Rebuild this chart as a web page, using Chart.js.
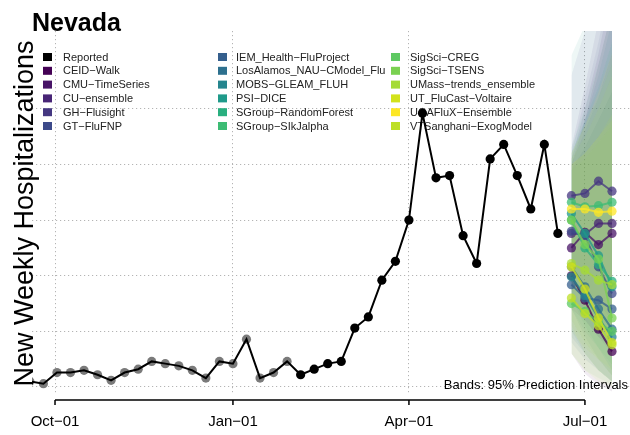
<!DOCTYPE html>
<html>
<head>
<meta charset="utf-8">
<script src="https://cdn.jsdelivr.net/npm/chart.js@4.4.1/dist/chart.umd.min.js"></script>
<style>
  html, body { margin: 0; padding: 0; background: #fff; }
  canvas { display: block; }
</style>
</head>
<body>
<canvas id="chart" width="630" height="435"></canvas>
<script>
// reported weekly hospitalizations
var reportedDates = ['2023-09-18','2023-09-25','2023-10-02','2023-10-09','2023-10-16','2023-10-23','2023-10-30',
  '2023-11-06','2023-11-13','2023-11-20','2023-11-27','2023-12-04','2023-12-11','2023-12-18','2023-12-25',
  '2024-01-01','2024-01-08','2024-01-15','2024-01-22','2024-01-29','2024-02-05','2024-02-12','2024-02-19',
  '2024-02-26','2024-03-04','2024-03-11','2024-03-18','2024-03-25','2024-04-01','2024-04-08','2024-04-15',
  '2024-04-22','2024-04-29','2024-05-06','2024-05-13','2024-05-20','2024-05-27','2024-06-03','2024-06-10','2024-06-17'];
var reportedValues = [5, 3, 13, 13, 15, 11, 6, 13, 16, 23, 21, 19, 15, 8, 23, 21, 43, 8, 13, 23,
  11, 16, 21, 23, 53, 63, 96, 113, 150, 246, 188, 190, 136, 111, 205, 218, 190, 160, 218, 138];
var olderCount = 20; // first weeks shown in grey

// forecasts, 1-4 weeks ahead
var forecastDates = ['2024-06-24','2024-07-01','2024-07-08','2024-07-15'];
var models = ['CEID\u2212Walk','CMU\u2212TimeSeries','CU\u2212ensemble','GH\u2212Flusight','GT\u2212FluFNP',
  'IEM_Health\u2212FluProject','LosAlamos_NAU\u2212CModel_Flu','MOBS\u2212GLEAM_FLUH','PSI\u2212DICE',
  'SGroup\u2212RandomForest','SGroup\u2212SIkJalpha','SigSci\u2212CREG','SigSci\u2212TSENS',
  'UMass\u2212trends_ensemble','UT_FluCast\u2212Voltaire','UGAFluX\u2212Ensemble','VTSanghani\u2212ExogModel'];
var modelColors = ['#440154','#481467','#482576','#453781','#3d4a8a','#355f8d','#2d708e','#25858e','#1f9a8a',
  '#29af7f','#3dbc74','#5ec962','#7ad151','#a5db36','#d2e21b','#fde725','#bddf26'];
var medians = [
  [100, 78, 52, 32],
  [125, 139, 128, 138],
  [138, 137, 147, 147],
  [172, 174, 185, 176],
  [140, 136, 108, 84],
  [92, 80, 78, 70],
  [108, 90, 70, 52],
  [99, 82, 62, 45],
  [156, 138, 118, 90],
  [150, 125, 110, 95],
  [166, 162, 163, 166],
  [75, 68, 58, 50],
  [150, 128, 115, 62],
  [111, 105, 96, 92],
  [108, 88, 62, 40],
  [160, 160, 157, 158],
  [80, 66, 55, 38]
];
var lower95 = [
  [30, 12, 2, -4], [70, 60, 45, 35], [80, 60, 45, 30], [110, 90, 75, 60], [70, 45, 25, 10],
  [40, 25, 15, 5], [50, 30, 15, 5], [45, 30, 15, 5], [80, 55, 35, 15], [70, 50, 35, 20],
  [95, 75, 60, 50], [30, 15, 8, 2], [60, 40, 25, 10], [50, 35, 25, 15], [55, 30, 15, 5],
  [90, 70, 55, 45], [30, 15, 5, 0]
];
var upper95 = [
  [200, 240, 290, 340], [205, 250, 300, 360], [215, 270, 330, 400], [280, 320, 370, 420], [210, 260, 310, 370],
  [195, 215, 240, 265], [200, 230, 260, 300], [205, 240, 280, 330], [298, 325, 360, 400], [210, 240, 270, 310],
  [215, 250, 290, 340], [195, 205, 220, 235], [210, 235, 260, 290], [205, 225, 250, 280], [200, 210, 225, 240],
  [210, 235, 265, 300], [200, 210, 225, 245]
];

var tickDates = ['2023-10-01','2024-01-01','2024-04-01','2024-07-01'];
var tickLabels = ['Oct\u221201','Jan\u221201','Apr\u221201','Jul\u221201'];
var gridValues = [0, 50, 100, 150, 200, 250];

var FONT = '"Liberation Sans", Arial, Helvetica, sans-serif';

function dayOf(s) {
  return (Date.parse(s) - Date.parse('2023-10-01')) / 86400000;
}
function rgba(hex, a) {
  var n = parseInt(hex.slice(1), 16);
  return 'rgba(' + (n >> 16) + ',' + ((n >> 8) & 255) + ',' + (n & 255) + ',' + a + ')';
}
function pts(dates, vals) {
  return dates.map(function (d, i) { return {x: dayOf(d), y: vals[i]}; });
}

var datasets = [];

// 95% bands underneath everything; later models painted over earlier ones
models.forEach(function (m, i) {
  datasets.push({
    label: m + ' lo', data: pts(forecastDates, lower95[i]), order: 100 - i,
    borderWidth: 0, pointRadius: 0, fill: false
  });
  datasets.push({
    label: m + ' hi', data: pts(forecastDates, upper95[i]), order: 100 - i,
    borderWidth: 0, pointRadius: 0, fill: '-1', backgroundColor: rgba(modelColors[i], 0.075)
  });
});

// older reported weeks as grey dots under the line
datasets.push({
  label: 'older', data: pts(reportedDates.slice(0, olderCount), reportedValues.slice(0, olderCount)),
  order: 60, showLine: false, pointRadius: 4.6, pointBorderWidth: 0,
  pointBackgroundColor: '#7a7a7a'
});

datasets.push({
  label: 'Reported', data: pts(reportedDates, reportedValues), order: 55,
  borderColor: '#000', borderWidth: 2,
  pointRadius: reportedValues.map(function (v, i) { return i < olderCount ? 0 : 4.6; }),
  pointBorderWidth: 0, pointBackgroundColor: '#000'
});

models.forEach(function (m, i) {
  datasets.push({
    label: m, data: pts(forecastDates, medians[i]), order: 40 - i,
    borderColor: rgba(modelColors[i], 0.75), borderWidth: 2,
    pointRadius: 4.6, pointBorderWidth: 0, pointBackgroundColor: rgba(modelColors[i], 0.75)
  });
});

var decorations = {
  id: 'decorations',
  beforeDatasetsDraw: function (chart) {
    var ctx = chart.ctx;
    var names = ['Reported'].concat(models);
    var cols = ['#000'].concat(modelColors);
    var colSquare = [43, 218, 391];
    var colText = [63, 236, 410];
    ctx.save();
    ctx.font = '11px ' + FONT;
    ctx.textBaseline = 'middle';
    ctx.textAlign = 'left';
    names.forEach(function (n, i) {
      var c = Math.floor(i / 6), r = i % 6;
      var y = 57 + r * 13.8;
      ctx.fillStyle = cols[i];
      ctx.fillRect(colSquare[c], y - 4, 9, 8);
      ctx.fillStyle = '#222';
      ctx.fillText(n, colText[c], y + 0.5);
    });
    ctx.restore();
  },
  afterDraw: function (chart) {
    var ctx = chart.ctx, area = chart.chartArea, xs = chart.scales.x;
    ctx.save();
    // title
    ctx.fillStyle = '#000';
    ctx.font = 'bold 25px ' + FONT;
    ctx.textAlign = 'left';
    ctx.textBaseline = 'alphabetic';
    ctx.fillText('Nevada', 32, 31);
    // y axis title
    ctx.save();
    ctx.translate(33, (area.top + area.bottom) / 2 + 1);
    ctx.rotate(-Math.PI / 2);
    ctx.font = '27px ' + FONT;
    ctx.textAlign = 'center';
    ctx.fillText('New Weekly Hospitalizations', 0, 0);
    ctx.restore();
    // x axis line, ticks and labels
    var yAxis = area.bottom + 6;
    var x0 = xs.getPixelForValue(dayOf(tickDates[0]));
    var x1 = xs.getPixelForValue(dayOf(tickDates[tickDates.length - 1]));
    ctx.strokeStyle = '#000';
    ctx.lineWidth = 1.5;
    ctx.beginPath();
    ctx.moveTo(x0, yAxis);
    ctx.lineTo(x1, yAxis);
    tickDates.forEach(function (d) {
      var px = xs.getPixelForValue(dayOf(d));
      ctx.moveTo(px, yAxis);
      ctx.lineTo(px, yAxis + 5);
    });
    ctx.stroke();
    ctx.font = '15px ' + FONT;
    ctx.textAlign = 'center';
    ctx.textBaseline = 'middle';
    tickDates.forEach(function (d, i) {
      ctx.fillText(tickLabels[i], xs.getPixelForValue(dayOf(d)), area.bottom + 28);
    });
    // band note
    ctx.font = '13px ' + FONT;
    ctx.textAlign = 'right';
    ctx.textBaseline = 'alphabetic';
    ctx.fillText('Bands: 95% Prediction Intervals', 628, area.bottom - 5);
    ctx.restore();
  }
};

var gridStyle = {
  color: '#b4b4b4', lineWidth: 1, drawTicks: false
};

new Chart(document.getElementById('chart'), {
  type: 'line',
  data: {datasets: datasets},
  options: {
    responsive: false,
    animation: false,
    devicePixelRatio: 1,
    layout: {autoPadding: false, padding: {left: 32, right: 0, top: 31, bottom: 41}},
    elements: {line: {tension: 0}},
    plugins: {legend: {display: false}, tooltip: {enabled: false}},
    scales: {
      x: {
        type: 'linear', min: -11.9, max: 297.3,
        border: {display: false, dash: [1.2, 2.8]},
        grid: gridStyle,
        afterBuildTicks: function (s) {
          s.ticks = tickDates.map(function (d) { return {value: dayOf(d)}; });
        },
        ticks: {display: false}
      },
      y: {
        type: 'linear', min: -6.3, max: 320,
        border: {display: false, dash: [1.2, 2.8]},
        grid: gridStyle,
        afterBuildTicks: function (s) {
          s.ticks = gridValues.map(function (v) { return {value: v}; });
        },
        ticks: {display: false}
      }
    }
  },
  plugins: [decorations]
});
</script>
</body>
</html>
